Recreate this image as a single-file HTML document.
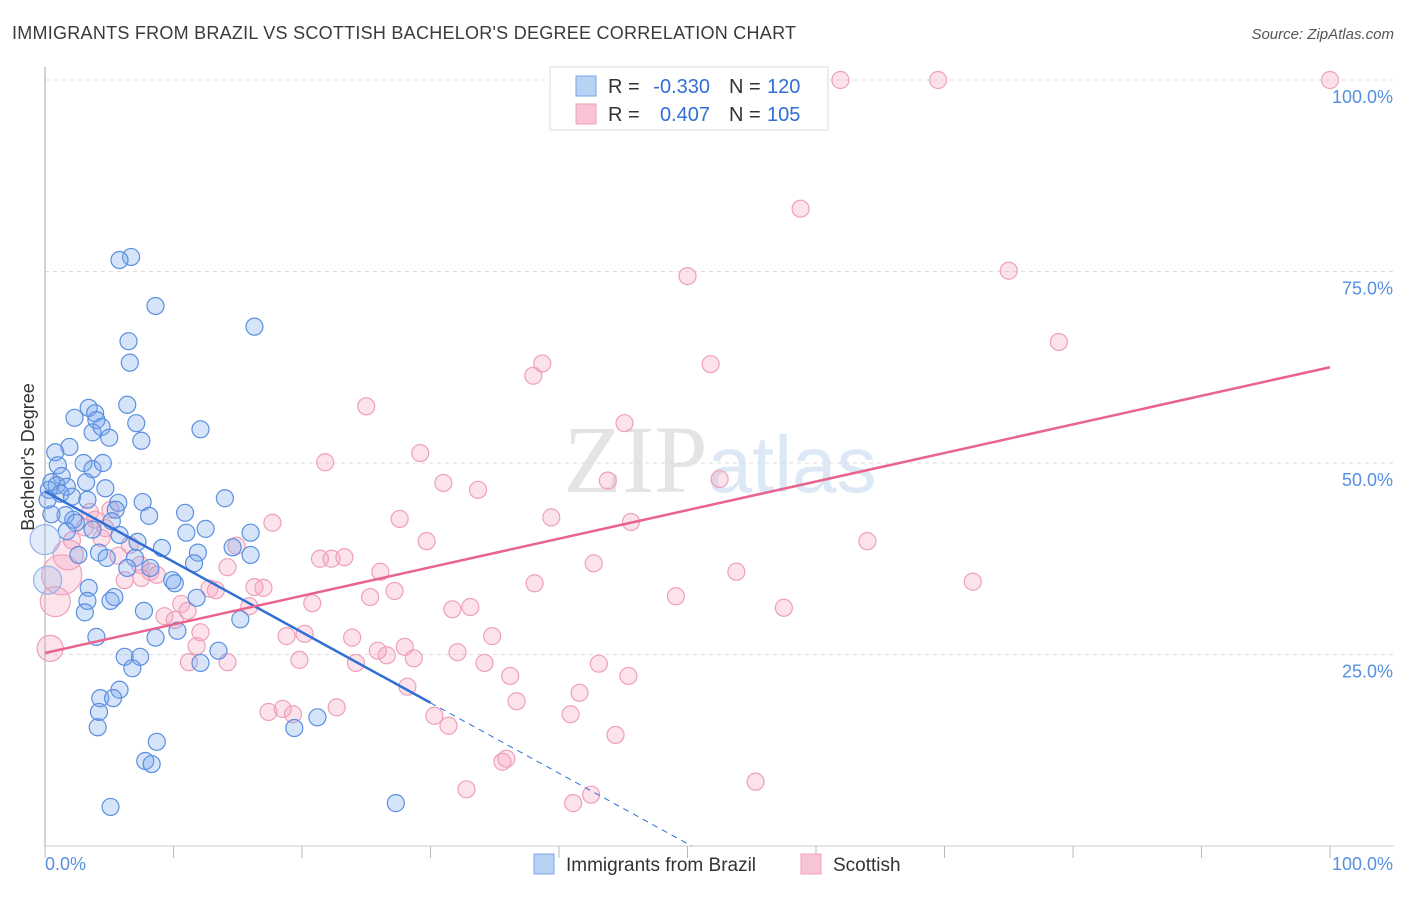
<!DOCTYPE html>
<html><head><meta charset="utf-8"><style>
body{margin:0;background:#fff;font-family:"Liberation Sans",sans-serif;}
</style></head><body>
<svg id="c" width="1406" height="892" xmlns="http://www.w3.org/2000/svg" style="font-family:'Liberation Sans',sans-serif">
<text x="12" y="39" font-size="18" fill="#3a3a3a" textLength="784">IMMIGRANTS FROM BRAZIL VS SCOTTISH BACHELOR'S DEGREE CORRELATION CHART</text>
<text x="1394" y="39" font-size="15" fill="#555" font-style="italic" text-anchor="end">Source: ZipAtlas.com</text>
<text x="720" y="492" font-size="96" fill="#e4e4e4" text-anchor="middle" font-family="Liberation Serif, serif">ZIP<tspan fill="#dce8f6" font-family="Liberation Sans, sans-serif" font-size="80">atlas</tspan></text>
<text transform="translate(34,457) rotate(-90)" font-size="18" fill="#333" text-anchor="middle">Bachelor's Degree</text>
<g id="grid"></g><g id="pts"></g><g id="lines"></g>
<g>
<rect x="550" y="67" width="278" height="63" fill="#fff" stroke="#ddd"/>
<rect x="576" y="76" width="20" height="20" fill="#b8d2f4" stroke="#7aa6e6"/>
<rect x="576" y="104" width="20" height="20" fill="#f8c4d4" stroke="#f0a0bc"/>
<text x="608" y="93" font-size="20" fill="#333">R =</text>
<text x="710" y="93" font-size="20" fill="#2f6fd6" text-anchor="end">-0.330</text>
<text x="729" y="93" font-size="20" fill="#333">N =</text>
<text x="767" y="93" font-size="20" fill="#2f6fd6">120</text>
<text x="608" y="121" font-size="20" fill="#333">R =</text>
<text x="710" y="121" font-size="20" fill="#2f6fd6" text-anchor="end">0.407</text>
<text x="729" y="121" font-size="20" fill="#333">N =</text>
<text x="767" y="121" font-size="20" fill="#2f6fd6">105</text>
</g>
<g>
<rect x="534" y="854" width="20" height="20" fill="#b8d2f4" stroke="#7aa6e6"/>
<text x="566" y="871" font-size="19" fill="#333">Immigrants from Brazil</text>
<rect x="801" y="854" width="20" height="20" fill="#f8c4d4" stroke="#f0a0bc"/>
<text x="833" y="871" font-size="19" fill="#333">Scottish</text>
</g>
</svg>
<script>
const yTicks=[25,50,75,100];
const yTickLabels=["25.0%","50.0%","75.0%","100.0%"];
const xTicks=[0,10,20,30,40,50,60,70,80,90,100];
const blueX=[6.7,5.8,8.6,16.3,6.5,6.6,6.4,3.4,3.9,2.3,4.0,7.1,3.7,4.4,5.0,7.5,12.1,1.9,0.8,3.0,3.7,4.5,1.0,1.3,0.5,0.9,1.7,0.3,1.2,2.1,3.2,4.7,3.3,5.7,7.6,14.0,8.1,5.5,1.6,0.5,2.2,5.2,2.4,10.9,12.5,11.0,1.7,3.7,5.8,7.2,14.6,16.0,16.0,9.1,4.2,4.8,2.6,7.0,11.9,11.6,6.4,8.2,9.9,10.1,3.4,3.3,5.1,5.4,11.8,3.1,7.7,15.2,10.3,4.0,8.6,13.5,6.2,7.4,6.8,12.1,5.8,4.3,5.3,4.2,4.1,8.7,7.8,8.3,5.1,19.4,21.2,27.3,0.2];
const blueY=[76.9,76.5,70.5,67.8,65.9,63.1,57.6,57.2,56.5,55.9,55.6,55.2,54.0,54.7,53.3,52.9,54.4,52.1,51.4,50.0,49.2,50.0,49.7,48.3,47.5,47.1,46.9,46.5,46.0,45.6,47.5,46.7,45.2,44.8,44.9,45.4,43.1,43.9,43.2,43.3,42.6,42.4,42.2,43.5,41.4,40.9,41.1,41.3,40.6,39.7,39.0,38.0,40.9,38.9,38.3,37.6,38.0,37.6,38.3,36.9,36.3,36.3,34.7,34.3,33.7,32.0,32.0,32.5,32.4,30.5,30.7,29.6,28.1,27.3,27.2,25.5,24.7,24.7,23.2,23.9,20.4,19.3,19.3,17.5,15.5,13.6,11.1,10.7,5.1,15.4,16.8,5.6,45.2];
const blueBigX=[0,0.2];
const blueBigY=[40,34.7];
const pinkX=[61.9,69.5,100,58.8,50.0,75.0,78.9,38.7,38.0,51.8,25.0,45.1,29.2,21.8,31.0,33.7,43.8,52.5,39.4,27.6,45.6,17.7,29.7,64.0,14.9,21.4,22.3,23.3,42.7,53.8,26.1,72.2,38.1,27.2,25.3,49.1,57.5,20.8,31.7,33.1,16.3,17.0,14.2,15.9,10.6,11.1,12.8,13.3,9.3,10.1,12.1,20.2,18.8,23.9,34.8,28.0,25.9,26.6,32.1,11.8,11.2,14.2,19.8,24.2,34.2,28.7,36.2,43.1,45.4,28.2,41.6,36.7,22.7,17.4,18.5,19.3,30.3,31.4,40.9,44.4,35.9,35.6,32.8,41.1,42.5,55.3,5.1,3.5,3.9,3.1,4.7,6.6,5.7,7.4,8.2,6.2,7.5,8.7,2.1,4.4];
const pinkY=[100,100,100,83.2,74.4,75.1,65.8,63.0,61.4,62.9,57.4,55.2,51.3,50.1,47.4,46.5,47.7,47.9,42.9,42.7,42.3,42.2,39.8,39.8,39.2,37.5,37.5,37.7,36.9,35.8,35.8,34.5,34.3,33.3,32.5,32.6,31.1,31.7,30.9,31.2,33.8,33.7,36.4,31.3,31.6,30.7,33.6,33.4,30.0,29.5,27.9,27.7,27.4,27.2,27.4,26.0,25.5,24.9,25.3,26.1,24.0,24.0,24.3,23.9,23.9,24.5,22.2,23.8,22.2,20.8,20.0,18.9,18.1,17.5,17.9,17.2,17.0,15.7,17.2,14.5,11.4,11.0,7.4,5.6,6.7,8.4,43.9,43.6,42.6,41.6,41.5,39.3,37.9,36.7,35.8,34.7,35.0,35.4,39.9,40.2];
const pinkBigX=[1.3,0.8,0.4,1.8];
const pinkBigY=[35.4,31.9,25.8,38];
const blueTrend=[46.3,-0.92];
const blueSolidEnd=30;
const pinkTrend=[25.2,0.373];

const NS="http://www.w3.org/2000/svg";
const X=v=>45+v*12.85, Y=v=>846-v*7.66;
function mk(tag,attrs,parent){const e=document.createElementNS(NS,tag);for(const k in attrs)e.setAttribute(k,attrs[k]);parent.appendChild(e);return e;}
const grid=document.getElementById('grid'),pts=document.getElementById('pts'),lines=document.getElementById('lines');
yTicks.forEach((t,i)=>{
 const l=mk('line',{x1:45,x2:1394,y1:Y(t),y2:Y(t),stroke:'#ddd','stroke-dasharray':'4,4'},grid);
 
 
 const tx=mk('text',{x:1393,y:Y(t)+23,'font-size':18,fill:'#5590e0','text-anchor':'end'},grid);
 tx.textContent=yTickLabels[i];
 
 
});
const ax=mk('line',{x1:45,x2:1394,y1:846,y2:846,stroke:'#ccc'},grid);


const ay=mk('line',{x1:45,x2:45,y1:67,y2:846,stroke:'#aaa'},grid);


xTicks.forEach(t=>{
 const l=mk('line',{x1:X(t),x2:X(t),y1:846,y2:858,stroke:'#bbb'},grid);
 
 
});
const xl0=mk('text',{x:45,y:870,'font-size':18,fill:'#5590e0'},grid);xl0.textContent='0.0%';


const xl1=mk('text',{x:1393,y:870,'font-size':18,fill:'#5590e0','text-anchor':'end'},grid);xl1.textContent='100.0%';


function dot(x,y,r,fill,stroke,name){const c=mk('circle',{cx:X(x),cy:Y(y),r:r,fill:fill,stroke:stroke,'stroke-width':1.2},pts);
 
 }
pinkX.forEach((x,i)=>dot(x,pinkY[i],8.5,'rgba(244,160,188,0.3)','#eea0ba','scottish-point'));
pinkBigX.forEach((x,i)=>dot(x,pinkBigY[i],[20,15,13,15][i],'rgba(244,160,188,0.3)','#eea0ba','scottish-point-large'));
blueX.forEach((x,i)=>dot(x,blueY[i],8.5,'rgba(120,165,235,0.3)','#5b8fe0','brazil-point'));
blueBigX.forEach((x,i)=>dot(x,blueBigY[i],[15,14][i],'rgba(160,190,240,0.3)','#8fb2ea','brazil-point-large'));
const bf=x=>blueTrend[0]+blueTrend[1]*x, pf=x=>pinkTrend[0]+pinkTrend[1]*x;
const b1=mk('line',{x1:X(0),y1:Y(bf(0)),x2:X(blueSolidEnd),y2:Y(bf(blueSolidEnd)),stroke:'#2f6fd6','stroke-width':2.5},lines);


const zx=-blueTrend[0]/blueTrend[1];
const b2=mk('line',{x1:X(blueSolidEnd),y1:Y(bf(blueSolidEnd)),x2:X(zx),y2:Y(0),stroke:'#2f6fd6','stroke-width':1,'stroke-dasharray':'6,5'},lines);


const p1=mk('line',{x1:X(0),y1:Y(pf(0)),x2:X(100),y2:Y(pf(100)),stroke:'#e8648e','stroke-width':2.5},lines);


</script>
</body></html>
